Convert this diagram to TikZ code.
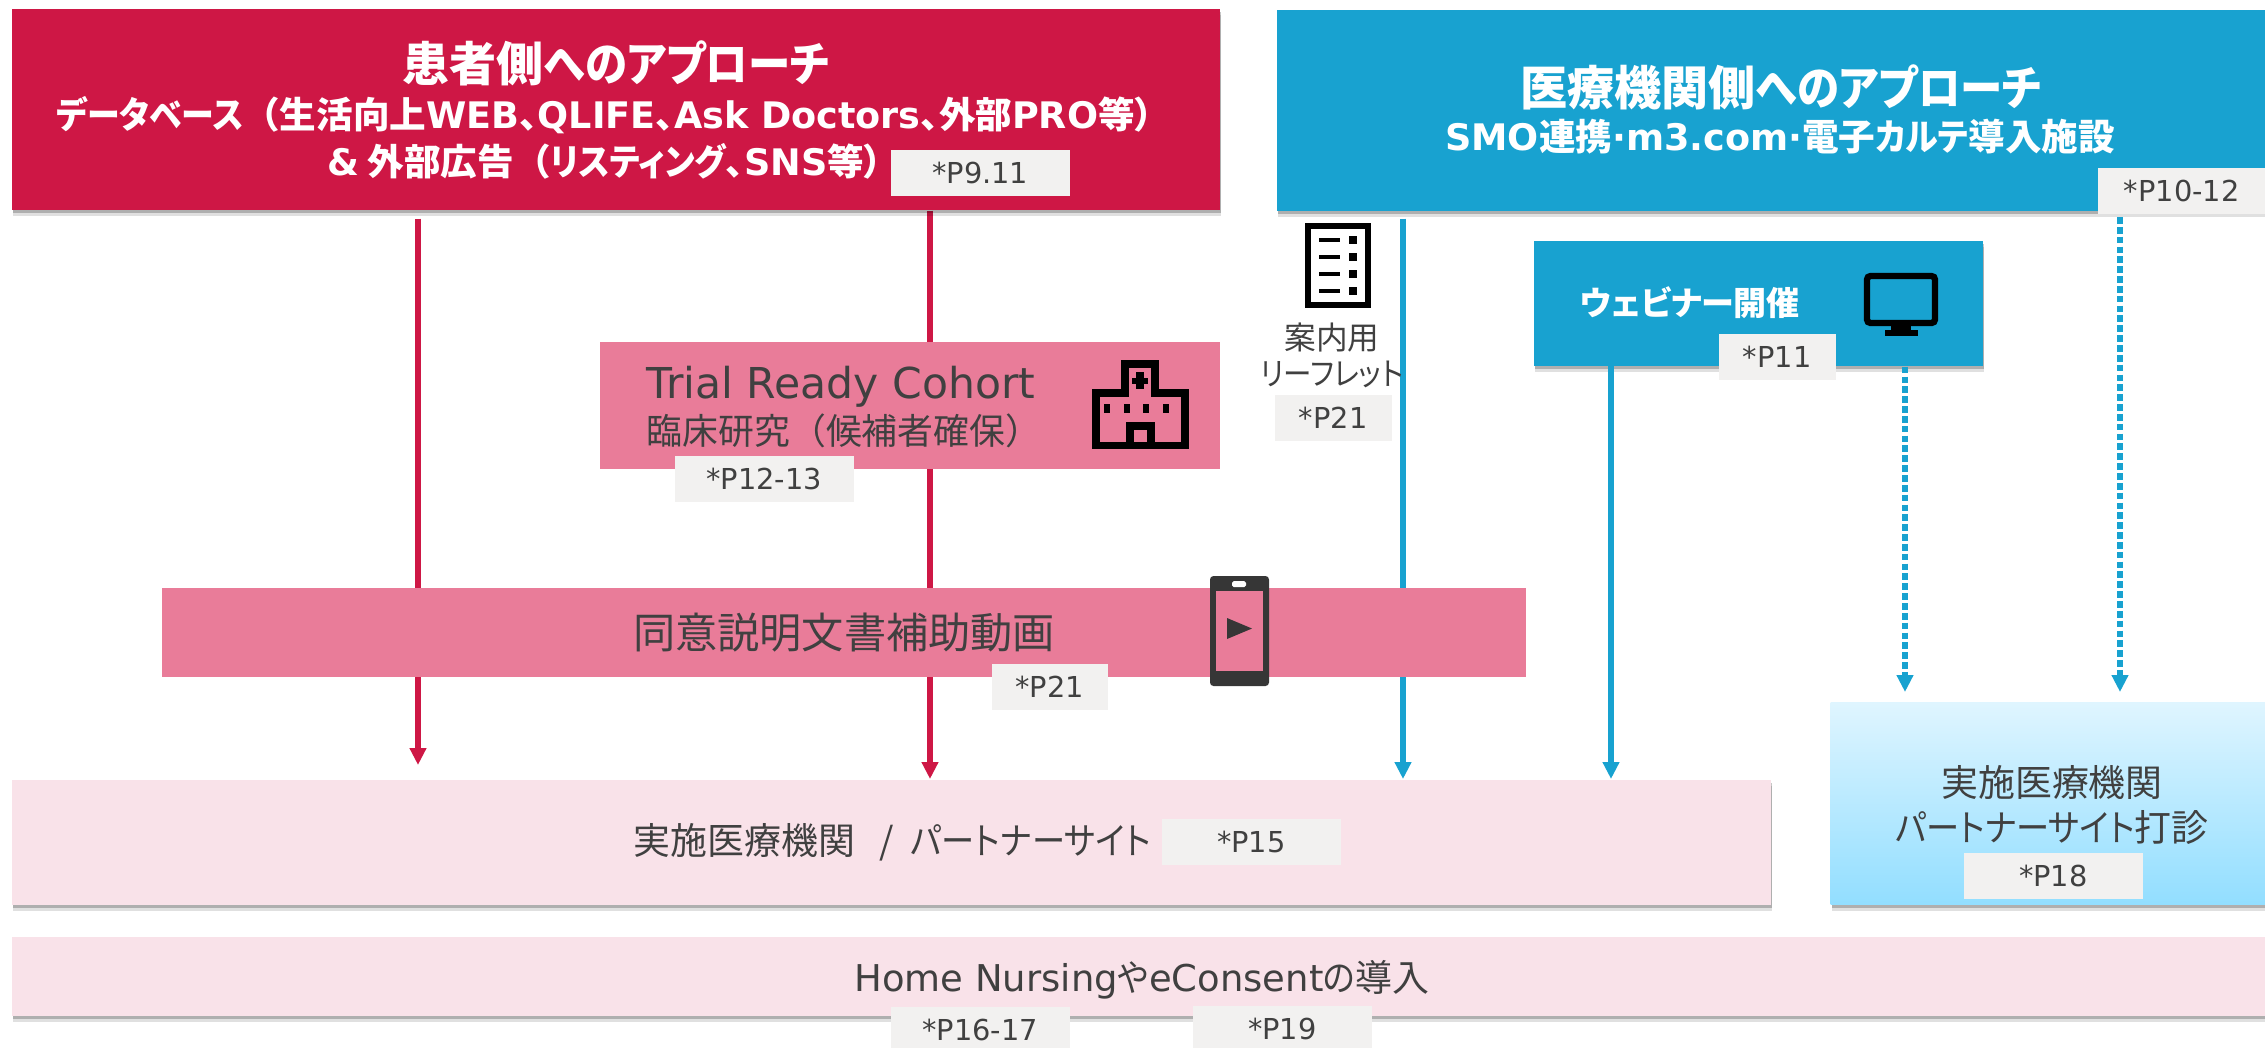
\documentclass[tikz,border=0pt]{standalone}
\usepackage{fontspec}
\setmainfont[RawFeature=+palt]{Noto Sans CJK JP}
\newfontfamily\latinfont{DejaVu Sans}
\newfontfamily\widefont{Noto Sans CJK JP}
\newcommand{\slimkana}[1]{\scalebox{0.9}[1]{#1}}
\usetikzlibrary{arrows.meta,positioning,shadows,backgrounds}
\definecolor{crimson}{HTML}{CE1745}
\definecolor{rosebox}{HTML}{E97C99}
\definecolor{palerose}{HTML}{F9E2E9}
\definecolor{seablue}{HTML}{18A2D0}
\definecolor{tagfill}{HTML}{F2F1F0}
\definecolor{inktext}{HTML}{404040}
\definecolor{visittop}{HTML}{DFF5FF}
\definecolor{visitbottom}{HTML}{92DEFF}

\begin{document}
\begin{tikzpicture}[
        x=0.01cm, y=-0.01cm,
        every node/.style={inner sep=0pt, align=center, text=inktext},
        softshadow/.style={
            drop shadow={shadow xshift=0.1mm, shadow yshift=-0.6mm, opacity=0.12, fill=black},
            drop shadow={shadow xshift=0.1mm, shadow yshift=-0.35mm, opacity=0.22, fill=black}},
        box/.style={anchor=north west, fill=#1},
        headbox/.style={box=#1, softshadow},
        pagetag/.style={fill=tagfill, anchor=north west, minimum width=1.79cm, minimum height=0.46cm, font=\latinfont\fontsize{8.2pt}{9pt}\selectfont},
        headtext/.style={text=white, font=\bfseries\fontsize{13.4pt}{16pt}\selectfont},
        subtext/.style={text=white, font=\bfseries\fontsize{10.4pt}{13.3pt}\selectfont},
        bodytext/.style={font=\fontsize{10.5pt}{12.8pt}\selectfont},
        redline/.style={crimson, line width=1.6pt, -{Triangle[length=1.7mm,width=1.6mm]}},
        blueline/.style={seablue, line width=1.6pt, -{Triangle[length=1.7mm,width=1.6mm]}},
        dashline/.style={blueline, dash pattern=on 1.9pt off 0.9pt}
    ]
    \useasboundingbox (0,0) rectangle (2265,1047);

    % Top boxes
    \node (patient)[headbox=crimson, minimum width=12.08cm, minimum height=2.01cm] at (11,8) {};
    \node (patienthead)[headtext] at (616,63) {患者側\slimkana{へのアプローチ}};
    \node (patientsub)[subtext] at (605,138) {\slimkana{データベース}{\widefont （}生活向上{\latinfont WEB}、{\latinfont QLIFE}、{\latinfont Ask Doctors}、外部{\latinfont PRO}等）\\
        {\latinfont \&} 外部広告{\widefont （}\slimkana{リスティング}、{\latinfont SNS}等）};
    \node (tagpatient)[pagetag] at (890,149) {*P9.11};

    \node (clinic)[headbox=seablue, minimum width=9.89cm, minimum height=2.01cm] at (1276,9) {};
    \node (clinichead)[headtext] at (1781,87) {医療機関側\slimkana{へのアプローチ}};
    \node (clinicsub)[subtext] at (1780,137) {{\latinfont SMO}連携{\latinfont ·m3.com·}電子\slimkana{カルテ}導入施設};
    \node (tagclinic)[pagetag, minimum width=1.68cm] at (2097,167) {*P10-12};

    % Middle boxes
    \node (cohort)[box=rosebox, minimum width=6.2cm, minimum height=1.27cm] at (599,341) {};
    \node (cohortname)[font=\latinfont\fontsize{12.1pt}{14pt}\selectfont] at (841,387) {Trial Ready Cohort};
    \node (cohortsub)[font=\widefont\fontsize{10.2pt}{12pt}\selectfont] at (844,431) {臨床研究（候補者確保）};
    \node (tagcohort)[pagetag] at (674,455) {*P12-13};

    \node (webinar)[headbox=seablue, minimum width=4.49cm, minimum height=1.25cm] at (1533,240) {};
    \node (webinarname)[text=white, font=\bfseries\fontsize{9.4pt}{12pt}\selectfont] at (1690,303) {ウェビナー開催};
    \node (tagwebinar)[pagetag, minimum width=1.17cm] at (1718,333) {*P11};

    \node (leaflet)[font=\fontsize{9pt}{10.3pt}\selectfont] at (1332,355) {案内用\\\slimkana{リーフレット}};
    \node (tagleaflet)[pagetag, minimum width=1.17cm] at (1274,394) {*P21};

    \node (consent)[box=rosebox, minimum width=13.63cm, minimum height=0.89cm] at (161,587) {};
    \node (consentname)[font=\fontsize{12pt}{14pt}\selectfont] at (844,633) {同意説明文書補助動画};
    \node (tagconsent)[pagetag, minimum width=1.16cm] at (991,663) {*P21};

    % Lower boxes
    \node (partner)[headbox=palerose, minimum width=17.58cm, minimum height=1.25cm] at (11,779) {};
    \node (partnername)[bodytext] at (892,842) {実施医療機関\ \ \ /\ \ \slimkana{パートナーサイト}};
    \node (tagpartner)[pagetag] at (1161,818) {*P15};

    \node (visit)[anchor=north west, minimum width=4.35cm, minimum height=2.02cm, softshadow,
        top color=visittop, bottom color=visitbottom] at (1830,702) {};
    \node (visitname)[bodytext] at (2052,805) {実施医療機関\\\slimkana{パートナーサイト}打診};
    \node (tagvisit)[pagetag] at (1963,852) {*P18};

    \node (home)[headbox=palerose, minimum width=22.54cm, minimum height=0.79cm] at (11,936) {};
    \node (homename)[bodytext] at (1142,980) {{\latinfont Home Nursing}\slimkana{や}{\latinfont eConsent}\slimkana{の}導入};
    \node (taghome)[pagetag] at (890,1006) {*P16-17};
    \node (tagconsentb)[pagetag] at (1192,1005) {*P19};

    % Edges
    \coordinate (reda) at (418,0);
    \coordinate (redb) at (930,0);
    \coordinate (bluea) at (1403,0);
    \coordinate (blueb) at (1611,0);
    \coordinate (dota) at (1905,347);
    \coordinate (dotb) at (2120,217);
    \begin{scope}[on background layer]
        \draw[redline, shorten <=0.8mm, shorten >=1.4mm] (patient.south -| reda) -- (partner.north -| reda);
        \draw[redline] (patient.south -| redb) -- (partner.north -| redb);
        \draw[blueline, shorten <=0.7mm] (clinic.south -| bluea) -- (partner.north -| bluea);
    \end{scope}
    \draw[blueline] (webinar.south -| blueb) -- (partner.north -| blueb);
    \draw[dashline, shorten >=1mm] (dota) -- (visit.north -| dota);
    \draw[dashline, shorten >=1mm] (dotb) -- (visit.north -| dotb);

    % Leaflet icon
    \draw[black, line width=1.6pt, fill=white] (1308,226) rectangle (1368,305);
    \foreach \rowy in {240,257,274,291} {
        \fill[black] (1319,\rowy-2) rectangle (1340,\rowy+2);
        \fill[black] (1349,\rowy-4) rectangle (1357,\rowy+4);
    }

    % Hospital icon
    \draw[black, line width=2pt] (1096,445) -- (1096,393) -- (1125,393) -- (1125,364)
        -- (1155,364) -- (1155,393) -- (1185,393) -- (1185,445) -- cycle;
    \draw[black, line width=2pt] (1130,445) -- (1130,426) -- (1151,426) -- (1151,445);
    \fill[black] (1136,372) rectangle (1144,389);
    \fill[black] (1132,378) rectangle (1148,384);
    \foreach \winx in {1107,1127,1146,1166} {
        \fill[black] (\winx-3,404) rectangle (\winx+3,413);
    }

    % Monitor icon
    \draw[black, line width=1.8pt, rounded corners=1pt] (1867,276) rectangle (1935,323);
    \fill[black] (1891,325) rectangle (1911,331);
    \fill[black] (1885,330) rectangle (1918,336);

    % Phone icon
    \fill[inktext!85!black, rounded corners=1pt] (1210,576) rectangle (1269,686);
    \fill[rosebox] (1216,591) rectangle (1263,671);
    \fill[white, rounded corners=0.5pt] (1232,581) rectangle (1246,587);
    \fill[inktext!85!black] (1227,618) -- (1252,628.5) -- (1227,639) -- cycle;

\end{tikzpicture}
\end{document}
